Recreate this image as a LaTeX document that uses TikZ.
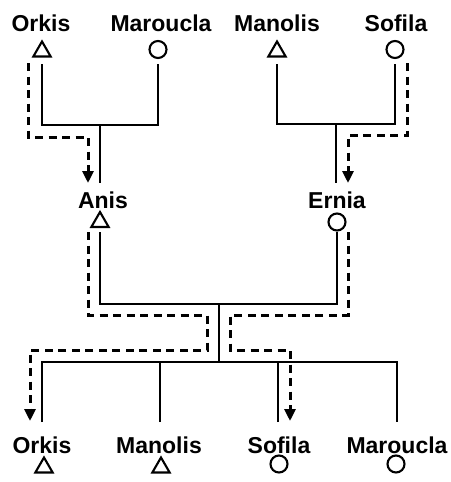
\documentclass[tikz,border=0pt]{standalone}
\usepackage{fontspec}
\setmainfont{Liberation Sans}
\usetikzlibrary{shapes.geometric,arrows.meta}
\begin{document}
\begin{tikzpicture}[x=1pt,y=-1pt,
  lbl/.style={anchor=base, inner sep=0pt, font=\fontsize{23}{26}\selectfont\bfseries},
  male/.style={regular polygon, regular polygon sides=3, draw, line width=2.1pt, minimum size=20pt, inner sep=0pt},
  female/.style={circle, draw, line width=2.1pt, minimum size=17pt, inner sep=0pt},
  tie/.style={line width=2.3pt},
  flow/.style={line width=3pt, dash pattern=on 8pt off 5.5pt, -{Triangle[width=11pt,length=12pt]}}
]
\useasboundingbox (0,0) rectangle (450,482);

% top generation
\node[lbl] (tOrkis) at (41,31) {Orkis};
\node[male] (tOrkisS) at (42,51.5) {};
\node[lbl] (tMar) at (161,31) {Maroucla};
\node[female] (tMarS) at (158,49.5) {};
\node[lbl] (tMan) at (277,31) {Manolis};
\node[male] (tManS) at (277,51.5) {};
\node[lbl] (tSof) at (396,31) {Sofila};
\node[female] (tSofS) at (395,49.5) {};

% middle generation
\node[lbl] (anis) at (103,208) {Anis};
\node[male] (anisS) at (100,222) {};
\node[lbl] (ernia) at (337,208) {Ernia};
\node[female] (erniaS) at (337,222) {};

% bottom generation
\node[lbl] (bOrkis) at (42,453) {Orkis};
\node[male] (bOrkisS) at (44,467.5) {};
\node[lbl] (bMan) at (159,453) {Manolis};
\node[male] (bManS) at (161,467.5) {};
\node[lbl] (bSof) at (279,453) {Sofila};
\node[female] (bSofS) at (279,464) {};
\node[lbl] (bMar) at (397,453) {Maroucla};
\node[female] (bMarS) at (396,464) {};

% connector points
\coordinate (fA1) at (42,64);
\coordinate (fA2) at (158,64);
\coordinate (jA) at (100,125);
\coordinate (eA) at (100,183);
\coordinate (fB1) at (277,64);
\coordinate (fB2) at (395,64);
\coordinate (jB) at (336,124);
\coordinate (eB) at (336,183);
\coordinate (fC1) at (100,232);
\coordinate (fC2) at (337,232);
\coordinate (jC) at (219,304);
\coordinate (jD) at (219,362);
\coordinate (cO) at (42,422);
\coordinate (cM) at (160,422);
\coordinate (cS) at (278,422);
\coordinate (cMa) at (397,422);

% kinship lines
\draw[tie] (fA1) |- (jA) -| (fA2);
\draw[tie] (jA) -- (eA);
\draw[tie] (fB1) |- (jB) -| (fB2);
\draw[tie] (jB) -- (eB);
\draw[tie] (fC1) |- (jC) -| (fC2);
\draw[tie] (jC) -- (jD);
\draw[tie] (cO) |- (jD) -| (cMa);
\draw[tie] (cM) -- (cM |- jD);
\draw[tie] (cS) -- (cS |- jD);

% dashed transmission paths
\coordinate (d1a) at (28,63);
\coordinate (d1b) at (88,137);
\coordinate (d1c) at (88,183);
\draw[flow] (d1a) |- (d1b) -- (d1c);

\coordinate (d2a) at (407,63);
\coordinate (d2b) at (348,135);
\coordinate (d2c) at (348,183);
\draw[flow] (d2a) |- (d2b) -- (d2c);

\coordinate (d3a) at (88,232);
\coordinate (d3b) at (207,315);
\coordinate (d3c) at (30,350);
\coordinate (d3d) at (30,421);
\draw[flow] (d3a) |- (d3b) |- (d3c) -- (d3d);

\coordinate (d4a) at (348,232);
\coordinate (d4b) at (230,315);
\coordinate (d4c) at (290,350);
\coordinate (d4d) at (290,421);
\draw[flow] (d4a) |- (d4b) |- (d4c) -- (d4d);
\end{tikzpicture}
\end{document}
